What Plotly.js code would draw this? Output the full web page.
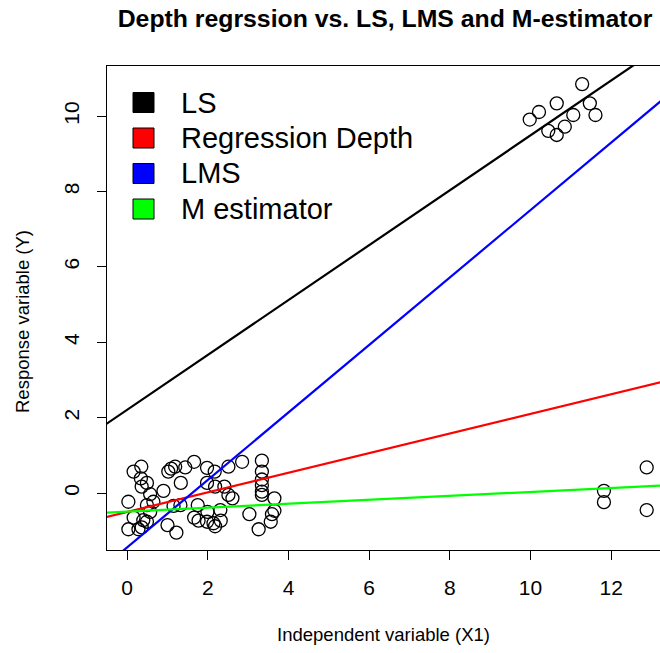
<!DOCTYPE html>
<html>
<head>
<meta charset="utf-8">
<script src="https://cdn.plot.ly/plotly-3.0.1.min.js"></script>
<style>
html,body{margin:0;padding:0;background:#fff;overflow:hidden;}
#chart{width:660px;height:653px;}
</style>
</head>
<body>
<div id="chart"></div>
<script>
// ---- data ----
var x1 = [
  // lower cluster
  0.35,0.16,0.34,0.49,0.36,0.57,0.03,0.49,0.65,0.57,0.16,0.40,0.49,0.03,0.28,0.36,
  0.90,1.02,1.09,1.19,1.44,1.66,1.33,1.00,1.22,1.15,1.32,1.75,
  1.98,2.17,1.98,2.18,2.41,2.51,2.61,2.51,2.85,1.66,1.77,1.99,1.98,2.14,2.18,2.31,2.32,
  3.03,3.34,3.34,3.34,3.34,3.34,3.34,3.65,3.65,3.59,3.56,3.26,
  // upper outlying cluster
  9.98,10.21,10.65,11.28,11.47,11.61,11.06,10.85,10.65,10.44,
  // good leverage points
  11.82,11.82,12.88,12.88
];
var yResp = [
  0.70,0.57,0.39,0.27,0.17,-0.03,-0.23,-0.32,-0.23,-0.50,-0.65,-0.72,-0.76,-0.96,-0.96,-0.91,
  0.06,0.57,0.65,0.70,0.68,0.83,0.27,-0.85,-1.05,-0.34,-0.32,-0.32,
  0.67,0.57,0.27,0.17,0.17,-0.05,-0.14,0.70,0.83,-0.65,-0.73,-0.50,-0.76,-0.80,-0.88,-0.45,-0.73,
  -0.56,0.86,0.57,0.36,0.21,0.04,-0.05,-0.14,-0.47,-0.56,-0.76,-0.96,
  9.91,10.11,10.34,10.85,10.34,10.03,10.03,9.72,9.50,9.61,
  0.06,-0.24,0.68,-0.45
];

var fitNames = ["LS", "Regression Depth", "LMS", "M estimator"];
var fitIntercepts = [2.21, -0.50, -1.44, -0.49];
var fitSlopes = [0.728, 0.26, 0.895, 0.052];
var fitColors = ["#000000", "#ff0000", "#0000ff", "#00ff00"];

var xTicks = [0, 2, 4, 6, 8, 10, 12];
var yTicks = [0, 2, 4, 6, 8, 10];
var xRange = [-0.50, 13.21];
var yRange = [-1.51, 11.33];

// ---- layout geometry (pixels) ----
var W = 660, H = 653;
var mL = 107, mR = 0, mT = 66, mB = 103;
var plotW = W - mL - mR, plotH = H - mT - mB;
function px2paperX(px){ return (px - mL) / plotW; }
function px2paperY(py){ return (H - mB - py) / plotH; }

var FONT = "Liberation Sans, Arial, sans-serif";

var traces = [];
traces.push({
  type: "scatter", mode: "markers", x: x1, y: yResp,
  marker: {symbol: "circle-open", size: 13, color: "#000", line: {width: 1.3, color: "#000"}},
  showlegend: false, hoverinfo: "x+y"
});
for (var i = 0; i < fitNames.length; i++) {
  var xs = [xRange[0] - 1, xRange[1] + 1];
  var ys = xs.map(function(v){ return fitIntercepts[i] + fitSlopes[i] * v; });
  traces.push({
    type: "scatter", mode: "lines", x: xs, y: ys, name: fitNames[i],
    line: {color: fitColors[i], width: 2.2}, showlegend: false
  });
}

// legend drawn as in base R: filled boxes + text
var shapes = [], annotations = [];
var rowY = [102.5, 138, 173.5, 209];
for (var k = 0; k < fitNames.length; k++) {
  shapes.push({
    type: "rect", xref: "paper", yref: "paper",
    x0: px2paperX(133), x1: px2paperX(154),
    y0: px2paperY(rowY[k] - 10), y1: px2paperY(rowY[k] + 10),
    fillcolor: fitColors[k], line: {color: "#000", width: 1}
  });
  annotations.push({
    xref: "paper", yref: "paper", x: px2paperX(179), y: px2paperY(rowY[k]),
    xanchor: "left", yanchor: "middle", showarrow: false,
    text: fitNames[k], font: {family: FONT, size: 29, color: "#000"}
  });
}
// y-axis title (placed like base R's mtext)
annotations.push({
  xref: "paper", yref: "paper", x: px2paperX(22), y: px2paperY(322),
  xanchor: "center", yanchor: "middle", showarrow: false, textangle: -90,
  text: "Response variable (Y)", font: {family: FONT, size: 18.5, color: "#000"}
});

var layout = {
  width: W, height: H,
  margin: {l: mL, r: mR, t: mT, b: mB, pad: 0},
  paper_bgcolor: "#fff", plot_bgcolor: "#fff",
  showlegend: false,
  font: {family: FONT, color: "#000"},
  title: {
    text: "Depth regrssion vs. LS, LMS and M-estimator",
    font: {family: FONT, size: 24.8, weight: "bold", color: "#000"},
    xref: "container", yref: "container",
    x: 385 / W, xanchor: "center", y: 1 - 18 / H, yanchor: "middle"
  },
  xaxis: {
    range: xRange, tickmode: "array", tickvals: xTicks, ticktext: xTicks.map(String),
    showgrid: false, zeroline: false,
    showline: true, linecolor: "#000", linewidth: 1, mirror: true,
    ticks: "outside", ticklen: 9, tickwidth: 1, tickcolor: "#000",
    tickfont: {family: FONT, size: 21, color: "#000"},
    ticklabelstandoff: 10,
    title: {text: "Independent variable (X1)", font: {family: FONT, size: 18.5, color: "#000"}, standoff: 29},
    automargin: false
  },
  yaxis: {
    range: yRange, tickmode: "array", tickvals: yTicks, ticktext: yTicks.map(String),
    showgrid: false, zeroline: false,
    showline: true, linecolor: "#000", linewidth: 1, mirror: false,
    ticks: "outside", ticklen: 9, tickwidth: 1, tickcolor: "#000",
    tickangle: -90,
    tickfont: {family: FONT, size: 21, color: "#000"},
    ticklabelstandoff: 10,
    automargin: false
  },
  shapes: shapes,
  annotations: annotations
};

Plotly.newPlot("chart", traces, layout, {displayModeBar: false, staticPlot: true});
</script>
</body>
</html>
